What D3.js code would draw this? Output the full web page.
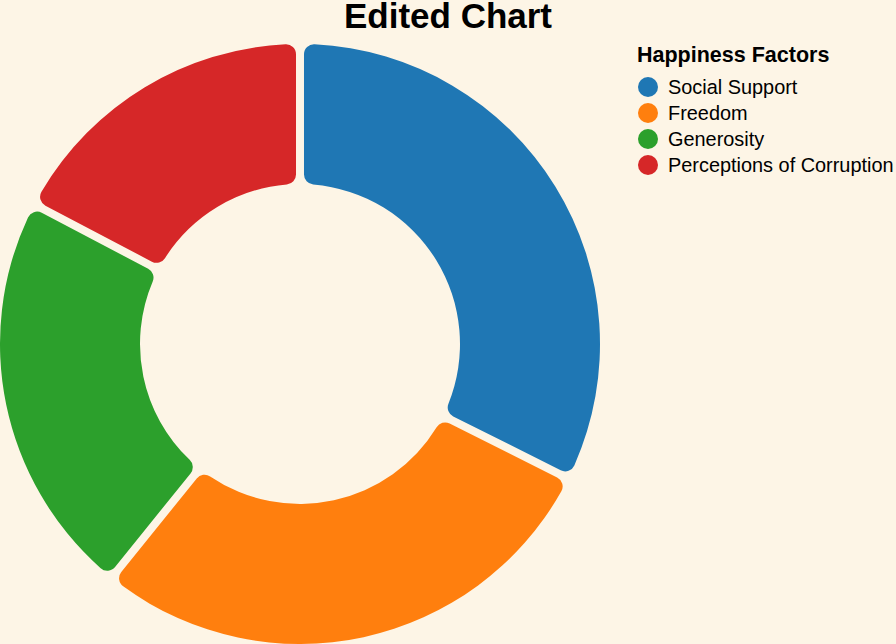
<!DOCTYPE html>
<html><head><meta charset="utf-8">
<script src="https://cdn.jsdelivr.net/npm/d3@7"></script>
<style>html,body{margin:0;padding:0;background:#fdf5e6;}svg{display:block;font-family:"Liberation Sans",Arial,sans-serif;}</style>
</head><body>
<svg id="chart" width="896" height="644"></svg>
<script>
const categories = ["Social Support", "Freedom", "Generosity", "Perceptions of Corruption"];
const values = [32.4, 28.4, 21.9, 17.3];
const colors = ["#1f77b4", "#ff7f0e", "#2ca02c", "#d62728"];
const titleText = "Edited Chart";
const legendTitle = "Happiness Factors";

const svg = d3.select("#chart");
svg.append("rect").attr("width", 896).attr("height", 644).attr("fill", "#fdf5e6");

const data = categories.map((c, i) => ({cat: c, value: values[i]}));
const color = d3.scaleOrdinal().domain(categories).range(colors);

const pie = d3.pie().value(d => d.value).sort(null);
const arc = d3.arc().innerRadius(160).outerRadius(300).padAngle(0.0235).cornerRadius(10);

const g = svg.append("g").attr("transform", "translate(300,344)");
g.selectAll("path").data(pie(data)).join("path")
  .attr("d", arc).attr("fill", d => color(d.data.cat));

svg.append("text").attr("x", 448).attr("y", 28).attr("text-anchor", "middle")
  .attr("font-size", 35).attr("font-weight", "bold").attr("fill", "#000").text(titleText);

const lg = svg.append("g").attr("transform", "translate(637,0)");
lg.append("text").attr("x", 0).attr("y", 62).attr("font-size", 21.5).attr("font-weight", "bold")
  .attr("fill", "#000").text(legendTitle);
const rowY = d3.scalePoint().domain(categories).range([87, 165]);
const rows = lg.selectAll("g.row").data(categories).join("g").attr("class", "row")
  .attr("transform", d => `translate(0,${rowY(d)})`);
rows.append("circle").attr("cx", 11).attr("cy", 0).attr("r", 10).attr("fill", d => color(d));
rows.append("text").attr("x", 31).attr("y", 7).attr("font-size", 19.9).attr("fill", "#000").text(d => d);
</script>
</body></html>
